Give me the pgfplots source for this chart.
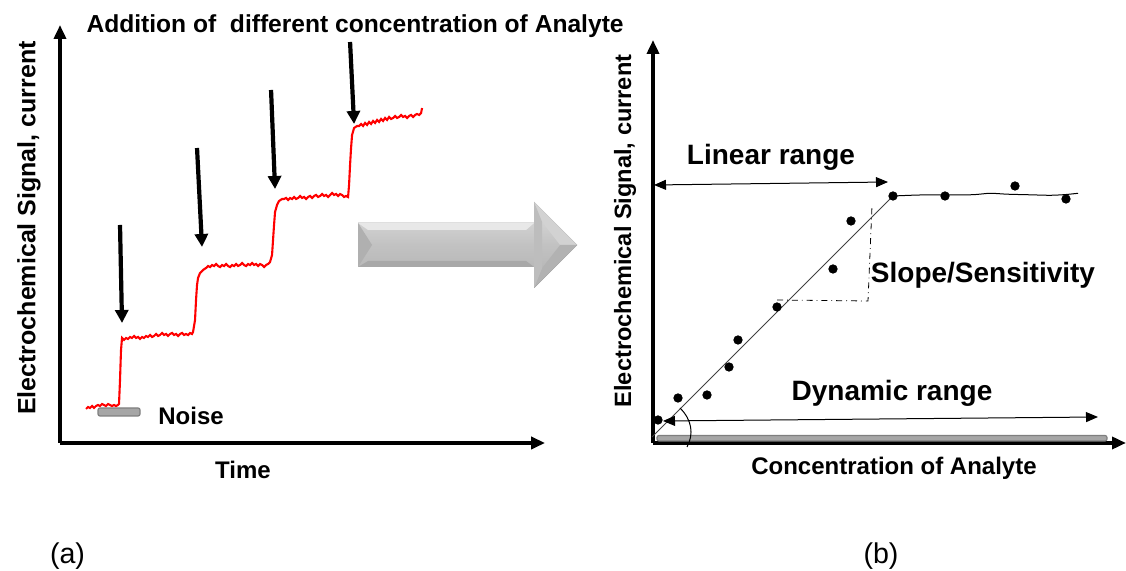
\documentclass[border=0pt]{standalone}
\usepackage{fontspec}
\setmainfont{Liberation Sans}
\usepackage{pgfplots}
\pgfplotsset{compat=1.18}
\usetikzlibrary{arrows.meta}
\definecolor{barfill}{HTML}{A6A6A6}
\definecolor{barline}{HTML}{7F7F7F}
\tikzset{
  lbl/.style={font=\fontsize{12}{14}\selectfont\bfseries, inner sep=0pt},
  lblb/.style={font=\fontsize{14}{16}\selectfont\bfseries, inner sep=0pt},
  bigarr/.style={line width=2.1pt, -{Triangle[width=6.5pt,length=6.5pt]}},
  thinarr/.style={line width=0.5pt, {Triangle[width=5pt,length=6pt]}-{Triangle[width=5pt,length=6pt]}},
}
\pgfplotsset{
  panel/.style={
    anchor=south west, scale only axis, clip=false,
    axis lines=left,
    axis line style={line width=1.8pt, -{Triangle[width=6pt,length=7pt]}},
    xtick=\empty, ytick=\empty,
    every axis x label/.style={lbl, anchor=center},
    every axis y label/.style={lbl, anchor=center, rotate=90},
  }
}
\begin{document}
\begin{tikzpicture}
\path[use as bounding box] (0,0) rectangle (563pt,285.5pt);

% ---------------- panel (a) ----------------
\begin{axis}[panel,
  at={(30pt,64pt)}, width=242.5pt, height=209pt,
  xmin=60, xmax=545, ymin=-443, ymax=-25,
  xlabel={Time}, xlabel style={at={(axis cs:243,-470)}},
  ylabel={\fontsize{12.5}{14}\selectfont Electrochemical Signal, current},
  ylabel style={at={(axis cs:29,-228)}},
]
% grey 3D arrow
\fill[top color=gray!25, bottom color=gray!62, middle color=gray!48]
  (358,-223) -- (534,-223) -- (534,-202) -- (577,-245) -- (534,-288) -- (534,-267) -- (358,-267) -- cycle;
\fill[gray!18] (358,-223) -- (534,-223) -- (526,-230) -- (368,-230) -- cycle;
\fill[gray!62] (358,-223) -- (372,-245) -- (358,-267) -- cycle;
\fill[gray!68] (358,-267) -- (534,-267) -- (526,-261) -- (368,-261) -- cycle;
\fill[gray!35] (534,-202) -- (577,-245) -- (560,-245) -- (542,-222) -- cycle;
\fill[gray!60] (534,-288) -- (577,-245) -- (560,-245) -- (542,-268) -- cycle;
\fill[gray!52] (534,-202) -- (542,-222) -- (542,-268) -- (534,-288) -- cycle;

% noise bar
\filldraw[fill=barfill, draw=barline, line width=0.6pt, rounded corners=1pt] (98,-408) rectangle (140,-416);
\node[lbl] at (191,-416) {Noise};

% red current trace
\addplot[red, line width=1.05pt] coordinates {
(86,-409) (88,-407) (90,-408) (92,-406) (94,-408) (96,-406) (98,-405) (100,-406) (102,-404) (104,-405)
(106,-406) (108,-404) (110,-405) (112,-406) (114,-405) (116,-406) (118,-405) (119,-404)
(120,-380) (121,-350) (122,-338)
(124,-340) (126,-338) (128,-339) (130,-337) (132,-338) (134,-336) (136,-338) (138,-337) (140,-339) (142,-337)
(144,-338) (146,-336) (148,-337) (150,-335) (152,-337) (154,-336) (156,-334) (158,-336) (160,-335) (162,-333)
(164,-335) (166,-334) (168,-336) (170,-334) (172,-333) (174,-335) (176,-334) (178,-336) (180,-334) (182,-333)
(184,-335) (186,-334) (188,-335) (190,-333) (192,-334) (193,-332)
(195,-320) (196,-300) (197,-285) (198,-278) (200,-273) (203,-270) (206,-268)
(208,-266) (210,-267) (212,-265) (214,-266) (216,-264) (218,-266) (220,-267) (222,-265) (224,-266) (226,-264)
(228,-266) (230,-267) (232,-265) (234,-266) (236,-264) (238,-266) (240,-265) (242,-263) (244,-265) (246,-266)
(248,-264) (250,-265) (252,-263) (254,-265) (256,-264) (258,-266) (260,-264) (262,-265) (264,-267) (266,-265)
(268,-264) (270,-262)
(272,-255) (273,-240) (274,-225) (275,-212) (277,-205) (279,-201) (282,-199)
(284,-199) (286,-198) (288,-200) (290,-198) (292,-199) (294,-197) (296,-199) (298,-198) (300,-196) (302,-198)
(304,-197) (306,-199) (308,-197) (310,-196) (312,-198) (314,-196) (316,-195) (318,-197) (320,-196) (322,-194)
(324,-196) (326,-195) (328,-197) (330,-195) (332,-193) (334,-195) (336,-194) (338,-196) (340,-194) (342,-195)
(344,-197) (346,-196) (348,-197)
(349,-185) (350,-165) (351,-148) (352,-135) (354,-128) (357,-126)
(359,-126) (361,-124) (363,-126) (365,-123) (367,-125) (369,-122) (371,-124) (373,-121) (375,-123) (377,-120)
(379,-122) (381,-119) (383,-121) (385,-118) (387,-120) (389,-117) (391,-119) (393,-118) (395,-116) (397,-118)
(399,-117) (401,-115) (403,-117) (405,-116) (407,-118) (409,-116) (411,-115) (413,-117) (415,-115) (417,-114)
(419,-115) (421,-113) (422,-108)
};

% addition arrows
\draw[bigarr] (120,-225) -- (122,-323);
\draw[bigarr] (197,-148) -- (202,-247);
\draw[bigarr] (271,-90) -- (275,-189);
\draw[bigarr] (350,-42) -- (354,-124);

\node[font=\fontsize{12.3}{14}\selectfont\bfseries, inner sep=0pt] at (355,-26) {Addition of\ \ different concentration of Analyte};
\node[font=\fontsize{14.3}{16}\selectfont, inner sep=0pt] at (67.5,-556) {(a)};
\end{axis}

% ---------------- panel (b) ----------------
\begin{axis}[panel,
  at={(326.5pt,64pt)}, width=236.5pt, height=201.5pt,
  xmin=653, xmax=1126, ymin=-443, ymax=-40,
  xlabel={Concentration of Analyte}, xlabel style={at={(axis cs:894,-468)}},
  ylabel={\fontsize{11.8}{14}\selectfont Electrochemical Signal, current},
  ylabel style={at={(axis cs:625,-231)}},
]
% dynamic range bar
\filldraw[fill=barfill, draw=barline, line width=0.6pt, rounded corners=1pt] (657,-435.5) rectangle (1107,-441);

% linear fit
\addplot[black!75, line width=0.5pt] coordinates {(652,-437) (893,-196)};
% plateau
\addplot[black, line width=0.5pt, smooth, tension=0.5] coordinates {
(893,-196) (920,-195) (945,-195) (973,-194.7) (990,-193.3) (1007,-194.2) (1030,-194.8) (1050,-195.3) (1065,-194.6) (1078,-193.3)};
% slope triangle
\addplot[black, line width=0.4pt, dash dot] coordinates {(777,-300) (868,-301) (872,-206)};
% calibration points
\addplot[only marks, mark=*, mark size=2.1pt, black] coordinates {
(658,-420) (678,-398) (707,-395) (729,-367) (738,-340) (777,-307) (833,-269) (851,-221)
(893,-196) (945,-196) (1015,-186) (1066,-199)};

% small angle arc
\draw[black, line width=0.5pt] (680,-408) .. controls (692,-420) and (694,-434) .. (687,-447);

% range arrows
\draw[thinarr] (654,-185) -- (888,-182);
\node[lblb] at (771,-157) {Linear range};
\draw[thinarr] (663,-421) -- (1098,-417);
\node[lblb] at (892,-393) {Dynamic range};
\node[lblb] at (983,-275) {Slope/Sensitivity};

\node[font=\fontsize{14.3}{16}\selectfont, inner sep=0pt] at (881,-556) {(b)};
\end{axis}
\end{tikzpicture}
\end{document}
